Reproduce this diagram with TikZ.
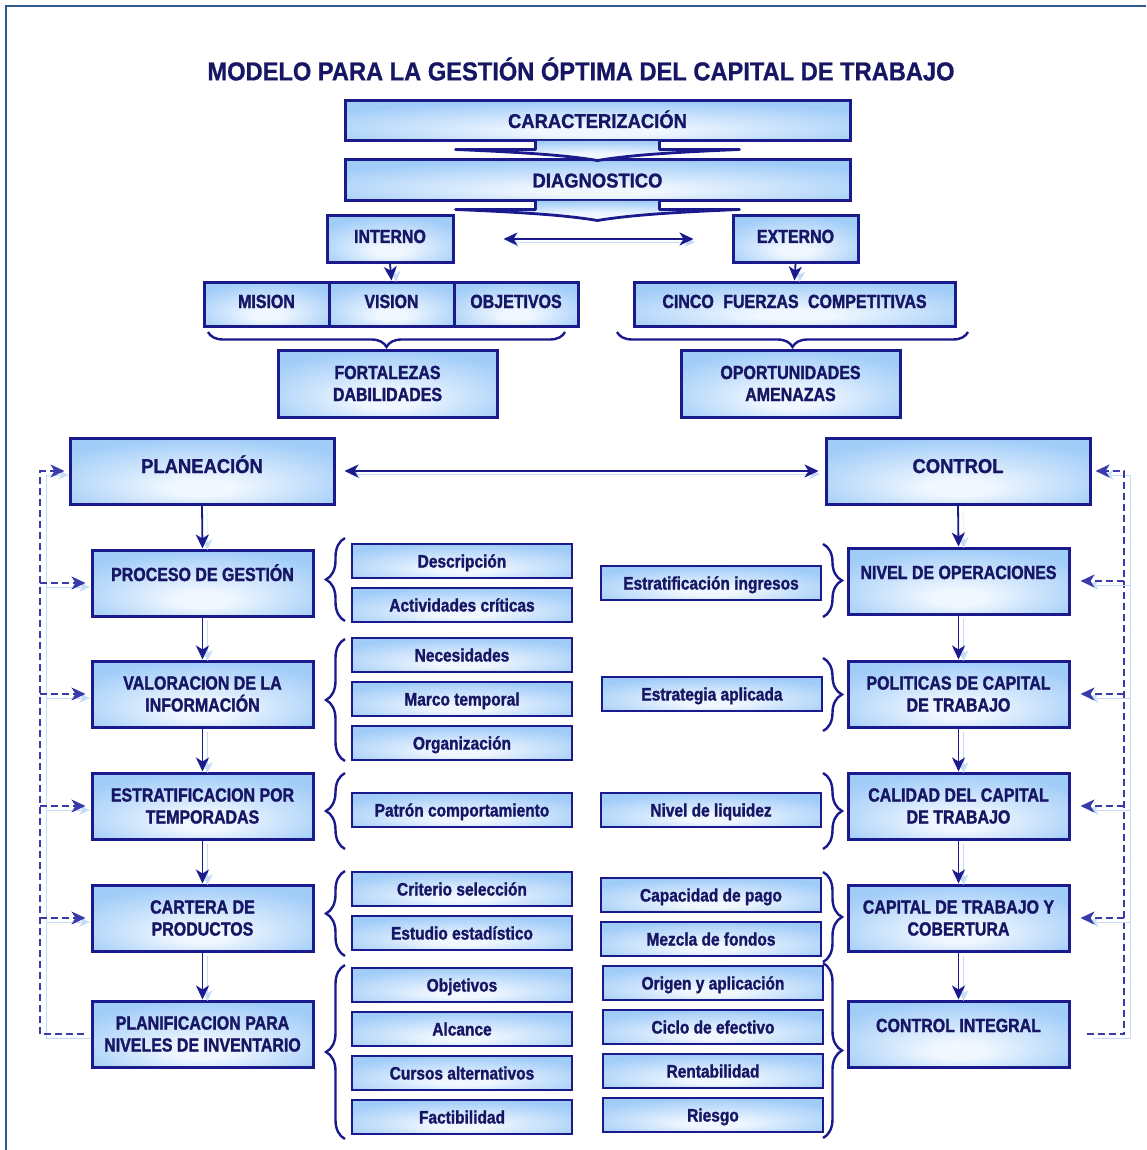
\documentclass[tikz,border=0pt]{standalone}
\usepackage{fontspec}
\setmainfont{Liberation Sans}
\newfontfamily\ttlfont[FakeStretch=0.91, FakeBold=0.8]{Liberation Sans}
\newfontfamily\hdfont[FakeStretch=0.92, FakeBold=1.2]{Liberation Sans}
\newfontfamily\cdfont[FakeStretch=0.84, FakeBold=1.6]{Liberation Sans}
\newfontfamily\itfont[FakeStretch=0.86, FakeBold=1.4]{Liberation Sans}
\usetikzlibrary{arrows.meta,decorations.pathreplacing,calc}

\definecolor{navy}{RGB}{26,26,140}
\definecolor{ink}{RGB}{22,22,100}
\definecolor{boxblue}{RGB}{160,204,248}
\definecolor{glowblue}{RGB}{240,247,255}
\definecolor{framecol}{RGB}{46,88,146}
\definecolor{dashblue}{RGB}{58,58,170}
\definecolor{shadowblue}{RGB}{196,220,248}

% light centre glow, slightly below the middle of each box
\pgfdeclareradialshading{boxglow}{\pgfpoint{0bp}{-14bp}}{%
  color(0bp)=(glowblue); color(6bp)=(glowblue); color(32bp)=(boxblue); color(60bp)=(boxblue)}

\tikzset{
  shadebox/.style={shading=boxglow, draw=navy, text=ink, align=center, inner sep=0pt},
  hdbox/.style={shadebox, line width=3pt, font=\hdfont\bfseries\fontsize{20}{24}\selectfont},
  hdtop/.style={text height=14pt, text depth=0pt},
  pltxt/.style={text height=14pt, text depth=10pt},
  smbox/.style={shadebox, line width=3pt, font=\cdfont\bfseries\fontsize{19}{22}\selectfont,
                text height=13pt, text depth=5pt},
  bigbox/.style={shadebox, line width=3pt, minimum width=221pt, minimum height=66pt,
                 font=\cdfont\bfseries\fontsize{19}{22}\selectfont},
  lift/.style={text height=13pt, text depth=17pt},
  itembox/.style={shadebox, line width=2.8pt, minimum width=220pt, minimum height=34pt,
                  font=\itfont\bfseries\fontsize{18}{20}\selectfont, text height=13pt, text depth=0pt},
  titletext/.style={text=ink, font=\ttlfont\bfseries\fontsize{26}{30}\selectfont, inner sep=0pt},
  headtip/.style={-{Stealth[length=14pt,width=13pt,inset=4pt]}},
  arr/.style={draw=navy, line width=1.8pt, headtip,
              preaction={draw=shadowblue, transform canvas={xshift=5pt,yshift=-3pt}}},
  dblarr/.style={draw=navy, line width=1.8pt,
              {Stealth[length=14pt,width=13pt,inset=4pt]}-{Stealth[length=14pt,width=13pt,inset=4pt]},
              preaction={draw=shadowblue, transform canvas={xshift=3pt,yshift=-3pt}}},
  dsh/.style={draw=dashblue, line width=2pt, dash pattern=on 7pt off 4pt,
              preaction={draw=shadowblue, transform canvas={xshift=6pt,yshift=-4pt}}},
  brc/.style={draw=navy, line width=2.4pt, decorate, decoration={brace, amplitude=#1}},
  funnel/.style={shading=boxglow, draw=navy, line width=2.8pt, line join=round},
}

\begin{document}
\begin{tikzpicture}[x=1pt, y=-1pt]
\useasboundingbox (0,0) rectangle (1146,1150);

% outer frame (left and top edges)
\draw[framecol, line width=2pt] (6,1150) -- (6,6) -- (1146,6);

% title
\node[titletext] (title) at (581,69) {MODELO PARA LA GESTIÓN ÓPTIMA DEL CAPITAL DE TRABAJO};

% top stages
\node[hdbox, hdtop, minimum width=505pt, minimum height=40pt] (car) at (597.5,121) {CARACTERIZACIÓN};
\node[hdbox, hdtop, minimum width=505pt, minimum height=41pt] (diag) at (597.5,180.5) {DIAGNOSTICO};

% flat downward arrows under the stage bars
\foreach \b in {car,diag}{
  \begin{scope}[shift={(\b.south)}]
    \filldraw[funnel] (-62,-1.6) -- (-62,7) -- (-142,7)
      .. controls (-70,10) and (-30,13) .. (0,18)
      .. controls (30,13) and (70,10) .. (142,7) -- (62,7) -- (62,-1.6);
  \end{scope}
}

% internal / external analysis
\node[smbox, minimum width=126pt, minimum height=46pt] (int) at (390,239) {INTERNO};
\node[smbox, minimum width=125pt, minimum height=46pt] (ext) at (795.5,239) {EXTERNO};
\draw[dblarr, shorten <=49pt, shorten >=38pt] (int.east) -- (ext.west);

\node[smbox, minimum width=125pt, minimum height=44pt] (mis) at (266.5,304) {MISION};
\node[smbox, minimum width=125pt, minimum height=44pt] (vis) at (391.5,304) {VISION};
\node[smbox, minimum width=124pt, minimum height=44pt] (obj) at (516,304) {OBJETIVOS};
\node[smbox, minimum width=321pt, minimum height=44pt] (cinco) at (794.5,304)
  {CINCO\hspace{5pt} FUERZAS\hspace{5pt} COMPETITIVAS};

\draw[arr] (int.south) -- (vis.north);
\draw[arr] (ext.south) -- (cinco.north);

\draw[brc=15pt] (565,332) -- (208,332);
\draw[brc=15pt] (968,332) -- (617,332);

\node[bigbox, minimum width=219pt, minimum height=67pt] (fort) at (387.5,383.5) {FORTALEZAS\\DABILIDADES};
\node[bigbox, minimum width=219pt, minimum height=67pt] (opor) at (790.5,383.5) {OPORTUNIDADES\\AMENAZAS};

% planning and control heads
\node[hdbox, pltxt, minimum width=264pt, minimum height=66pt] (plan) at (202,471) {PLANEACIÓN};
\node[hdbox, pltxt, minimum width=264pt, minimum height=66pt] (ctrl) at (958,471) {CONTROL};
\draw[dblarr, shorten <=9pt, shorten >=6pt] (plan.east) -- (ctrl.west);

% planning column
\node[bigbox, lift] (proc) at (202.5,583) {PROCESO DE GESTIÓN};
\node[bigbox] (valo) at (202.5,694) {VALORACION DE LA\\INFORMACIÓN};
\node[bigbox] (estr) at (202.5,806) {ESTRATIFICACION POR\\TEMPORADAS};
\node[bigbox] (cart) at (202.5,918) {CARTERA DE\\PRODUCTOS};
\node[bigbox] (planif) at (202.5,1034) {PLANIFICACION PARA\\NIVELES DE INVENTARIO};

\draw[arr] (plan.south) -- (proc.north);
\draw[arr] (proc.south) -- (valo.north);
\draw[arr] (valo.south) -- (estr.north);
\draw[arr] (estr.south) -- (cart.north);
\draw[arr] (cart.south) -- (planif.north);

% control column
\node[bigbox, lift] (nivel) at (958.5,581) {NIVEL DE OPERACIONES};
\node[bigbox] (poli) at (958.5,694) {POLITICAS DE CAPITAL\\DE TRABAJO};
\node[bigbox] (cali) at (958.5,806) {CALIDAD DEL CAPITAL\\DE TRABAJO};
\node[bigbox] (capt) at (958.5,918) {CAPITAL DE TRABAJO Y\\COBERTURA};
\node[bigbox, lift] (cint) at (958.5,1034) {CONTROL INTEGRAL};

\draw[arr] (ctrl.south) -- (nivel.north);
\draw[arr] (nivel.south) -- (poli.north);
\draw[arr] (poli.south) -- (cali.north);
\draw[arr] (cali.south) -- (capt.north);
\draw[arr] (capt.south) -- (cint.north);

% planning details
\node[itembox] (i1) at (462,561) {Descripción};
\node[itembox] (i2) at (462,605) {Actividades críticas};
\node[itembox] (i3) at (462,655) {Necesidades};
\node[itembox] (i4) at (462,699) {Marco temporal};
\node[itembox] (i5) at (462,743) {Organización};
\node[itembox] (i6) at (462,810) {Patrón comportamiento};
\node[itembox] (i7) at (462,889) {Criterio selección};
\node[itembox] (i8) at (462,933) {Estudio estadístico};
\node[itembox] (i9) at (462,985) {Objetivos};
\node[itembox] (i10) at (462,1029) {Alcance};
\node[itembox] (i11) at (462,1073) {Cursos alternativos};
\node[itembox] (i12) at (462,1117) {Factibilidad};

\draw[brc=19pt] (345,621) -- (345,538);
\draw[brc=19pt] (345,761) -- (345,639);
\draw[brc=19pt] (345,849) -- (345,773);
\draw[brc=19pt] (345,956) -- (345,871);
\draw[brc=19pt] (345,1139) -- (345,965);

% control details
\node[itembox] (r1) at (711,583) {Estratificación ingresos};
\node[itembox] (r2) at (712,694) {Estrategia aplicada};
\node[itembox] (r3) at (711,810) {Nivel de liquidez};
\node[itembox] (r4) at (711,895) {Capacidad de pago};
\node[itembox] (r5) at (711,939) {Mezcla de fondos};
\node[itembox] (r6) at (713,983) {Origen y aplicación};
\node[itembox] (r7) at (713,1027) {Ciclo de efectivo};
\node[itembox] (r8) at (713,1071) {Rentabilidad};
\node[itembox] (r9) at (713,1115) {Riesgo};

\draw[brc=19pt] (823,544) -- (823,617);
\draw[brc=19pt] (823,658) -- (823,731);
\draw[brc=19pt] (823,773) -- (823,849);
\draw[brc=19pt] (823,872) -- (823,962);
\draw[brc=19pt] (823,963) -- (823,1138);

% feedback loops
\coordinate (lbus) at (40,471);
\coordinate (rbus) at (1124,471);

\draw[dsh, headtip, shorten <=7pt, shorten >=4pt]
  (planif.west) -- (lbus |- planif.west) -- (lbus) -- (plan.west);
\foreach \n in {proc,valo,estr,cart}
  \draw[dsh, headtip, shorten >=5pt] (lbus |- \n.west) -- (\n.west);

\draw[dsh, headtip, shorten <=16pt, shorten >=4pt]
  (cint.east) -- (rbus |- cint.east) -- (rbus) -- (ctrl.east);
\foreach \n in {nivel,poli,cali,capt}
  \draw[dsh, headtip, shorten >=10pt] (rbus |- \n.east) -- (\n.east);

\end{tikzpicture}
\end{document}
